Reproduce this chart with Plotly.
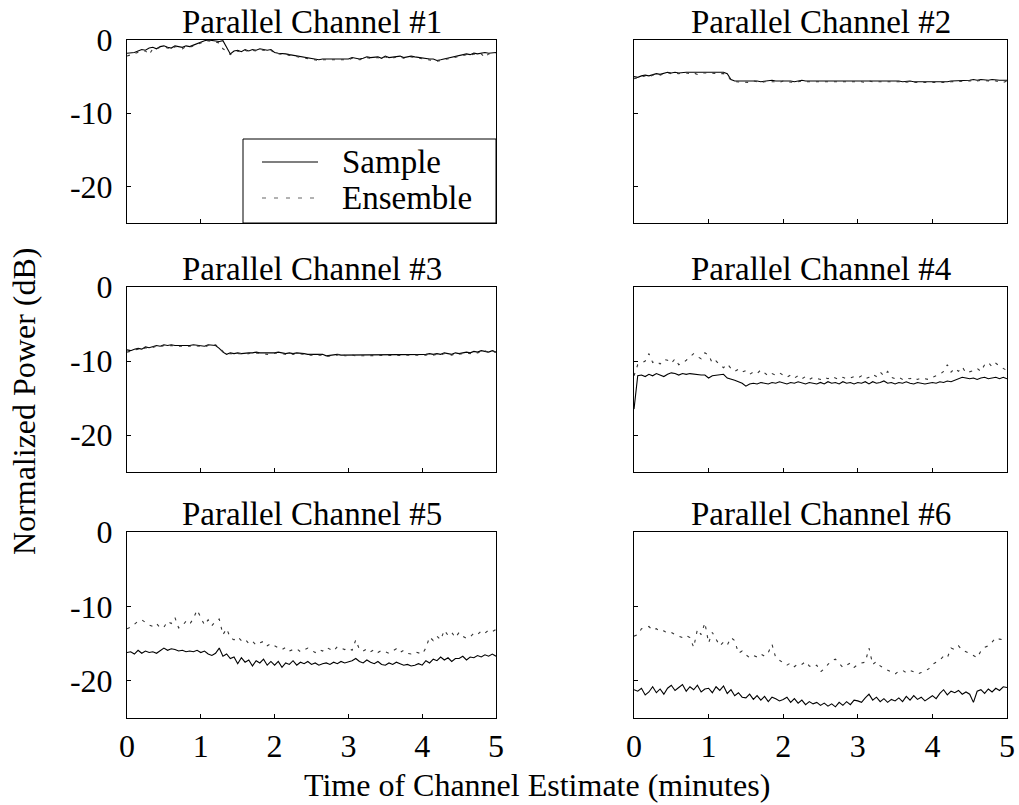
import numpy as np
import plotly.graph_objects as go

# ---------------- data ----------------
TITLES = ["Parallel Channel #1", "Parallel Channel #2", "Parallel Channel #3",
          "Parallel Channel #4", "Parallel Channel #5", "Parallel Channel #6"]
X_TICKS = [0, 1, 2, 3, 4, 5]
X_TICK_TEXT = ["0", "1", "2", "3", "4", "5"]
Y_TICKS = [0, -10, -20]
Y_TICK_TEXT = ["0", "-10", "-20"]
SERIES_NAMES = ["Sample", "Ensemble"]

# values sampled every 0.05 minutes from 0 to 5 minutes
sample_1 = [-1.8, -1.8, -1.7, -1.5, -1.3, -1.4, -1.1, -1.0, -1.2, -0.9,
            -0.8, -1.0, -1.1, -0.8, -0.9, -1.0, -0.8, -0.9, -0.7, -0.5,
            -0.2, -0.1, 0.0, -0.1, -0.1, -0.2, -0.1, -1.0, -1.9, -1.5,
            -1.4, -1.6, -1.3, -1.5, -1.3, -1.4, -1.2, -1.3, -1.4, -1.3,
            -1.7, -1.8, -1.8, -1.9, -2.0, -2.1, -2.2, -2.2, -2.4, -2.5,
            -2.6, -2.7, -2.7, -2.6, -2.6, -2.6, -2.6, -2.5, -2.6, -2.5,
            -2.6, -2.4, -2.5, -2.6, -2.5, -2.3, -2.4, -2.4, -2.3, -2.5,
            -2.2, -2.4, -2.3, -2.3, -2.2, -2.4, -2.3, -2.2, -2.3, -2.4,
            -2.4, -2.5, -2.6, -2.6, -2.8, -2.7, -2.6, -2.5, -2.4, -2.3,
            -2.2, -2.1, -1.9, -2.0, -1.8, -1.9, -1.8, -1.7, -1.8, -1.7, -1.7]
ensemble_1 = [-2.2, -2.0, -1.9, -1.6, -1.5, -1.5, -2.0, -1.2, -1.2, -1.0,
              -0.9, -1.1, -1.3, -0.9, -1.0, -1.2, -0.9, -1.0, -0.8, -0.6,
              -0.3, -0.2, -0.1, -0.2, -0.3, -0.4, -1.2, -1.5, -2.0, -1.6,
              -1.5, -1.7, -1.4, -1.6, -1.4, -1.5, -1.3, -1.4, -1.5, -1.4,
              -1.8, -1.9, -1.9, -2.0, -2.1, -2.2, -2.3, -2.3, -2.5, -2.6,
              -2.7, -2.8, -2.8, -2.7, -2.7, -2.7, -2.7, -2.6, -2.7, -2.6,
              -2.7, -2.5, -2.6, -2.7, -2.6, -2.4, -2.5, -2.5, -2.4, -2.6,
              -2.3, -2.5, -2.4, -2.4, -2.3, -2.5, -2.4, -2.3, -2.4, -2.5,
              -2.5, -2.6, -2.7, -2.8, -2.9, -2.8, -2.7, -2.6, -2.5, -2.4,
              -2.3, -2.2, -2.0, -2.1, -1.9, -2.0, -1.9, -2.4, -1.9, -1.8, -1.8]

sample_2 = [-5.0, -5.1, -4.9, -4.8, -4.9, -4.7, -4.6, -4.7, -4.5, -4.4,
            -4.5, -4.4, -4.5, -4.4, -4.4, -4.4, -4.4, -4.4, -4.4, -4.4,
            -4.4, -4.4, -4.4, -4.4, -4.4, -4.6, -5.4, -5.6, -5.6, -5.6,
            -5.6, -5.6, -5.5, -5.6, -5.7, -5.6, -5.6, -5.5, -5.6, -5.6,
            -5.5, -5.6, -5.6, -5.7, -5.6, -5.5, -5.6, -5.6, -5.6, -5.6,
            -5.6, -5.6, -5.6, -5.6, -5.6, -5.6, -5.6, -5.5, -5.6, -5.6,
            -5.5, -5.6, -5.6, -5.5, -5.6, -5.6, -5.5, -5.6, -5.6, -5.6,
            -5.6, -5.6, -5.7, -5.6, -5.6, -5.7, -5.7, -5.7, -5.7, -5.7,
            -5.7, -5.8, -5.7, -5.8, -5.7, -5.6, -5.6, -5.5, -5.5, -5.5,
            -5.5, -5.4, -5.5, -5.4, -5.5, -5.5, -5.4, -5.5, -5.5, -5.5, -5.5]
ensemble_2 = [-5.3, -5.2, -5.0, -4.9, -5.1, -4.8, -4.7, -4.8, -4.6, -4.5,
              -4.6, -4.5, -4.6, -4.5, -4.5, -4.6, -4.5, -4.7, -4.5, -4.5,
              -4.5, -4.6, -4.5, -4.5, -4.6, -4.8, -5.5, -5.7, -5.7, -5.7,
              -5.7, -5.8, -5.6, -5.7, -5.8, -5.7, -5.7, -5.6, -5.7, -5.8,
              -5.6, -5.7, -5.8, -5.8, -5.7, -5.6, -5.7, -5.7, -5.7, -5.7,
              -5.7, -5.7, -5.7, -5.7, -5.7, -5.7, -5.7, -5.6, -5.7, -5.7,
              -5.6, -5.7, -5.8, -5.6, -5.7, -5.7, -5.6, -5.7, -5.7, -5.7,
              -5.7, -5.7, -5.8, -5.7, -5.7, -5.8, -5.8, -5.8, -5.8, -5.8,
              -5.8, -5.9, -5.8, -5.9, -5.8, -5.7, -5.7, -5.6, -5.6, -5.6,
              -5.6, -5.5, -5.6, -5.5, -5.6, -5.6, -5.5, -5.6, -5.6, -5.8, -5.6]

sample_3 = [-8.5, -8.6, -8.4, -8.3, -8.4, -8.1, -8.2, -8.0, -7.9, -8.0,
            -7.8, -7.9, -7.8, -7.9, -7.9, -8.0, -7.9, -7.9, -7.8, -7.9,
            -7.9, -8.0, -7.8, -7.8, -7.9, -8.3, -8.8, -9.1, -8.9, -9.0,
            -8.9, -9.0, -8.9, -8.9, -8.9, -8.8, -8.9, -8.9, -9.0, -8.9,
            -8.9, -8.8, -8.9, -9.0, -8.9, -9.0, -8.9, -8.9, -9.0, -9.1,
            -9.1, -9.1, -9.2, -9.1, -9.3, -9.2, -9.2, -9.1, -9.2, -9.2,
            -9.2, -9.1, -9.2, -9.2, -9.2, -9.2, -9.2, -9.2, -9.2, -9.2,
            -9.2, -9.2, -9.2, -9.1, -9.2, -9.1, -9.2, -9.2, -9.1, -9.2,
            -9.2, -9.1, -9.0, -9.1, -9.0, -9.1, -8.9, -9.0, -9.1, -8.9,
            -9.0, -8.9, -8.8, -8.9, -8.7, -8.8, -8.6, -8.7, -8.8, -8.6, -8.8]
ensemble_3 = [-8.8, -8.7, -8.5, -8.4, -8.5, -8.2, -8.3, -8.1, -8.0, -8.1,
              -7.9, -8.0, -7.9, -8.0, -8.0, -8.1, -8.0, -8.0, -7.9, -8.0,
              -8.0, -8.1, -7.9, -7.9, -7.8, -8.2, -8.7, -9.0, -9.0, -9.1,
              -9.0, -9.1, -9.0, -9.0, -8.9, -8.9, -9.0, -9.0, -9.1, -9.0,
              -9.0, -8.9, -9.0, -9.1, -9.0, -9.1, -9.0, -9.0, -9.1, -9.2,
              -9.2, -9.2, -9.3, -9.2, -9.4, -9.3, -9.3, -9.2, -8.9, -9.3,
              -9.3, -9.2, -9.3, -9.3, -9.3, -9.3, -9.3, -9.3, -9.3, -9.3,
              -9.3, -9.3, -9.3, -9.2, -9.3, -9.2, -9.3, -9.3, -9.2, -9.3,
              -9.3, -9.2, -9.1, -9.2, -9.1, -9.2, -9.0, -9.1, -9.2, -9.0,
              -9.1, -9.0, -8.9, -9.0, -8.8, -8.9, -8.7, -8.6, -8.9, -8.6, -8.9]

sample_4 = [-16.5, -12.0, -11.9, -12.1, -11.8, -12.0, -11.7, -11.9, -12.1, -11.8,
            -11.6, -11.7, -11.9, -11.7, -11.8, -11.7, -11.8, -11.8, -11.9, -11.9,
            -12.3, -12.0, -11.9, -11.9, -11.8, -12.3, -12.4, -12.6, -12.8, -13.0,
            -13.4, -13.1, -13.0, -13.1, -12.9, -13.0, -13.1, -12.9, -13.0, -12.8,
            -13.0, -13.1, -12.9, -13.0, -12.8, -13.0, -13.1, -12.9, -13.0, -13.1,
            -12.9, -13.1, -12.8, -13.0, -12.9, -13.1, -12.8, -13.0, -12.9, -13.1,
            -12.9, -13.0, -12.8, -13.1, -12.8, -13.0, -12.9, -12.7, -13.0, -12.9,
            -13.1, -12.9, -13.0, -12.8, -13.0, -13.1, -12.9, -13.0, -13.1, -13.0,
            -12.9, -13.0, -12.8, -12.9, -12.7, -12.8, -12.6, -12.5, -12.2, -12.3,
            -12.4, -12.3, -12.5, -12.3, -12.2, -12.4, -12.3, -12.2, -12.4, -12.2, -12.4]
ensemble_4 = [-12.0, -10.5, -10.3, -10.0, -9.0, -10.2, -10.0, -10.4, -9.8, -9.9,
              -10.3, -9.7, -10.5, -10.3, -9.9, -9.5, -9.0, -9.4, -9.7, -8.9,
              -9.2, -10.3, -10.0, -10.5, -10.9, -10.4, -11.0, -11.4, -11.1, -11.5,
              -11.3, -11.8, -11.5, -11.7, -11.2, -11.6, -12.0, -11.7, -11.9, -11.6,
              -11.9, -12.2, -11.9, -12.3, -12.0, -12.4, -12.1, -12.5, -12.2, -12.3,
              -12.5, -12.2, -12.4, -12.1, -12.3, -12.5, -12.2, -12.4, -12.3, -12.1,
              -12.3, -12.0, -12.4, -12.2, -11.8, -12.1, -11.5, -12.0, -11.4, -12.2,
              -12.4, -12.2, -12.5, -12.3, -12.4, -12.2, -12.5, -12.3, -12.4, -12.5,
              -12.2, -12.0, -11.8, -11.4, -10.5, -11.5, -11.0, -11.4, -10.8, -11.6,
              -11.5, -11.3, -11.0, -11.4, -10.5, -10.2, -10.8, -10.3, -10.7, -11.0, -11.3]

sample_5 = [-16.2, -16.1, -16.4, -15.9, -16.3, -16.0, -16.2, -16.1, -16.3, -16.0,
            -15.6, -15.9, -15.7, -15.8, -16.0, -15.9, -16.1, -16.0, -16.1, -15.9,
            -16.2, -16.0, -16.4, -16.6, -16.3, -15.6, -16.7, -16.4, -17.0, -16.8,
            -17.7, -16.9, -17.5, -17.2, -18.0, -17.3, -17.6, -17.1, -17.9, -17.4,
            -17.9, -17.4, -18.2, -17.6, -17.8, -17.3, -17.9, -17.5, -17.7, -17.4,
            -17.8, -17.6, -17.9, -17.7, -17.6, -17.8, -17.5, -17.7, -17.4, -17.6,
            -17.5, -17.3, -17.0, -17.4, -17.6, -17.2, -17.5, -17.7, -17.4, -17.8,
            -17.9, -17.6, -17.8, -17.5, -17.7, -17.9, -17.8, -18.0, -17.9, -17.7,
            -17.9, -17.3, -17.6, -17.1, -17.3, -16.8, -17.2, -16.9, -17.4, -17.0,
            -17.0, -16.7, -17.2, -16.8, -16.9, -16.6, -16.8, -16.5, -16.7, -16.4, -16.7]
ensemble_5 = [-13.0, -12.8, -12.4, -12.0, -11.8, -12.2, -12.5, -12.7, -12.3, -12.9,
              -12.8, -12.0, -12.3, -11.5, -12.9, -12.6, -12.0, -12.4, -11.6, -10.5,
              -11.4, -12.5, -11.8, -12.6, -12.0, -11.7, -13.8, -13.0, -14.2, -14.5,
              -14.1, -14.6, -14.4, -15.0, -14.7, -15.2, -14.9, -14.7, -15.3, -15.0,
              -15.3, -15.6, -15.8, -15.5, -16.0, -15.8, -15.7, -16.1, -15.9, -15.6,
              -15.9, -16.2, -15.8, -16.0, -15.5, -15.7, -16.0, -15.4, -15.6, -15.8,
              -15.6, -15.9, -14.5, -15.8, -16.0, -15.7, -16.1, -15.8, -16.2, -15.9,
              -16.1, -16.3, -16.0, -15.7, -16.2, -15.9, -16.3, -16.4, -16.1, -16.2,
              -16.4, -15.6, -14.1, -14.6, -14.0, -14.5, -13.2, -13.9, -13.5, -14.2,
              -13.5, -14.0, -14.3, -14.1, -13.6, -13.8, -13.3, -13.6, -13.2, -13.4, -13.1]

sample_6 = [-21.2, -21.4, -21.0, -21.9, -21.5, -20.8, -21.6, -21.1, -21.8, -21.0,
            -20.6, -21.3, -20.9, -20.5, -21.4, -20.8, -21.2, -20.6, -21.5, -21.1,
            -21.0, -21.6, -20.8, -21.3, -20.7, -21.7, -21.2, -22.0, -21.6, -22.2,
            -22.3, -21.8, -22.5, -22.0, -22.6, -22.1, -22.8, -22.2, -22.4, -22.7,
            -22.5, -22.2, -22.9, -22.4, -23.0, -22.6, -23.2, -22.8, -23.1, -22.9,
            -23.3, -23.0, -23.4, -23.1, -23.5, -22.9, -23.3, -22.8, -23.2, -22.6,
            -22.7, -22.9, -22.3, -21.8, -22.6, -22.2, -22.8, -22.4, -22.9, -22.5,
            -22.7, -22.3, -22.8, -22.1, -22.6, -22.0, -22.5, -22.2, -22.7, -22.3,
            -22.0, -22.4, -21.7, -21.2, -21.9, -21.4, -21.6, -21.3, -21.8, -21.5,
            -21.8, -22.9, -21.4, -21.2, -21.7, -21.1, -21.5, -21.0, -21.3, -20.8, -20.9]
ensemble_6 = [-14.0, -13.8, -13.0, -12.8, -12.7, -13.2, -13.0, -13.4, -13.3, -13.6,
              -13.5, -13.8, -14.0, -14.2, -13.9, -14.2, -15.5, -13.1, -13.8, -12.2,
              -14.9, -13.5, -14.4, -15.3, -14.8, -15.2, -14.2, -14.6, -16.3, -16.0,
              -16.5, -16.9, -16.6, -16.8, -16.4, -16.7, -16.2, -15.1, -16.9, -17.2,
              -17.5, -17.9, -17.6, -18.1, -17.7, -17.8, -17.4, -18.0, -18.2, -17.9,
              -18.8, -18.4, -17.8, -17.3, -17.1, -17.6, -18.2, -17.9, -17.6, -18.2,
              -17.8, -17.6, -17.5, -15.6, -17.8, -17.4, -18.0, -18.3, -18.6, -18.8,
              -19.1, -18.7, -18.6, -18.9, -18.6, -18.8, -19.1, -18.9, -18.7, -18.4,
              -17.8, -17.5, -17.2, -16.7, -16.9, -15.6, -15.8, -15.3, -15.9, -16.1,
              -16.3, -16.6, -16.9, -16.0, -15.5, -15.3, -14.8, -14.2, -14.4, -14.5, -14.6]

SAMPLES = [sample_1, sample_2, sample_3, sample_4, sample_5, sample_6]
ENSEMBLES = [ensemble_1, ensemble_2, ensemble_3, ensemble_4, ensemble_5, ensemble_6]
T_START, T_END = 0, 5

# ---------------- layout geometry ----------------
W, H = 1019, 805
COLS = [(127, 496), (634, 1007)]            # pixel x-extent of each column
ROWS = [(40, 223), (287, 472), (532, 718)]  # pixel y-extent of each row
FONT = "Liberation Serif"
FS_TITLE = 33
FS_TICK = 32
FS_AXIS = 32
FS_LEGEND = 33
SAMPLE_STYLE = dict(color="black", width=1.1)
ENSEMBLE_STYLE = dict(color="#333333", width=1.1, dash="3px,6px")


def px_x(p):
    return p / W


def px_y(p):
    return 1 - p / H


fig = go.Figure()
layout = dict(
    width=W, height=H,
    margin=dict(l=0, r=0, t=0, b=0, pad=0, autoexpand=False),
    paper_bgcolor="white", plot_bgcolor="white",
    font=dict(family=FONT, size=FS_TITLE, color="black"),
    showlegend=False,
)
annotations = []
shapes = []

for i in range(6):
    r, c = divmod(i, 2)
    n = i + 1
    xk = "xaxis" if n == 1 else f"xaxis{n}"
    yk = "yaxis" if n == 1 else f"yaxis{n}"
    xref = "x" if n == 1 else f"x{n}"
    yref = "y" if n == 1 else f"y{n}"
    x0, x1 = COLS[c]
    y0, y1 = ROWS[r]
    layout[xk] = dict(
        domain=[px_x(x0), px_x(x1)], anchor=yref, range=[T_START, T_END],
        showline=True, mirror=True, linecolor="black", linewidth=1,
        ticks="inside", ticklen=4, tickcolor="black", tickwidth=1,
        tickvals=X_TICKS, ticktext=X_TICK_TEXT,
        showticklabels=(r == 2), ticklabelstandoff=0, automargin=False,
        showgrid=False, zeroline=False,
        tickfont=dict(family=FONT, size=FS_TICK, color="black"),
    )
    layout[yk] = dict(
        domain=[px_y(y1), px_y(y0)], anchor=xref, range=[-25, 0],
        showline=True, mirror=True, linecolor="black", linewidth=1,
        ticks="inside", ticklen=4, tickcolor="black", tickwidth=1,
        tickvals=Y_TICKS, ticktext=Y_TICK_TEXT,
        showticklabels=(c == 0), ticklabelstandoff=7, automargin=False,
        showgrid=False, zeroline=False,
        tickfont=dict(family=FONT, size=FS_TICK, color="black"),
    )
    t = np.linspace(T_START, T_END, len(SAMPLES[i]))
    te = np.linspace(T_START, T_END, len(ENSEMBLES[i]))
    fig.add_trace(go.Scatter(
        x=t, y=SAMPLES[i], mode="lines", name=SERIES_NAMES[0],
        xaxis=xref, yaxis=yref, line=SAMPLE_STYLE))
    fig.add_trace(go.Scatter(
        x=te, y=ENSEMBLES[i], mode="lines", name=SERIES_NAMES[1],
        xaxis=xref, yaxis=yref, line=ENSEMBLE_STYLE))
    annotations.append(dict(
        text=TITLES[i], xref="paper", yref="paper",
        x=px_x((x0 + x1) / 2), y=px_y(y0), xanchor="center", yanchor="bottom",
        yshift=-2, showarrow=False,
        font=dict(family=FONT, size=FS_TITLE, color="black")))

# axis titles
annotations.append(dict(
    text="Normalized Power (dB)", xref="paper", yref="paper",
    x=px_x(24), y=px_y(402), xanchor="center", yanchor="middle",
    textangle=-90, showarrow=False,
    font=dict(family=FONT, size=FS_AXIS, color="black")))
annotations.append(dict(
    text="Time of Channel Estimate (minutes)", xref="paper", yref="paper",
    x=px_x(537), y=0, xanchor="center", yanchor="bottom",
    showarrow=False, font=dict(family=FONT, size=FS_AXIS, color="black")))

# legend box inside panel 1 (lower right corner)
LEG_BOX = (243, 139, 496, 223)
LEG_ROWS = [162, 198]
shapes.append(dict(type="rect", xref="paper", yref="paper",
                   x0=px_x(LEG_BOX[0]), x1=px_x(LEG_BOX[2]),
                   y0=px_y(LEG_BOX[3]), y1=px_y(LEG_BOX[1]),
                   line=dict(color="black", width=1), fillcolor="white", layer="above"))
for name, yy, style in zip(SERIES_NAMES, LEG_ROWS,
                           [dict(color="black", width=1.1),
                            dict(color="#666666", width=1.1, dash="4px,8px")]):
    shapes.append(dict(type="line", xref="paper", yref="paper",
                       x0=px_x(262), x1=px_x(318), y0=px_y(yy), y1=px_y(yy),
                       line=style, layer="above"))
    annotations.append(dict(
        text=name, xref="paper", yref="paper", x=px_x(340), y=px_y(yy),
        xanchor="left", yanchor="middle", showarrow=False,
        font=dict(family=FONT, size=FS_LEGEND, color="black")))

layout["annotations"] = annotations
layout["shapes"] = shapes
fig.update_layout(**layout)
fig.write_html("out.html", config={"displayModeBar": False},
               post_script="document.body.style.margin='0px';")
